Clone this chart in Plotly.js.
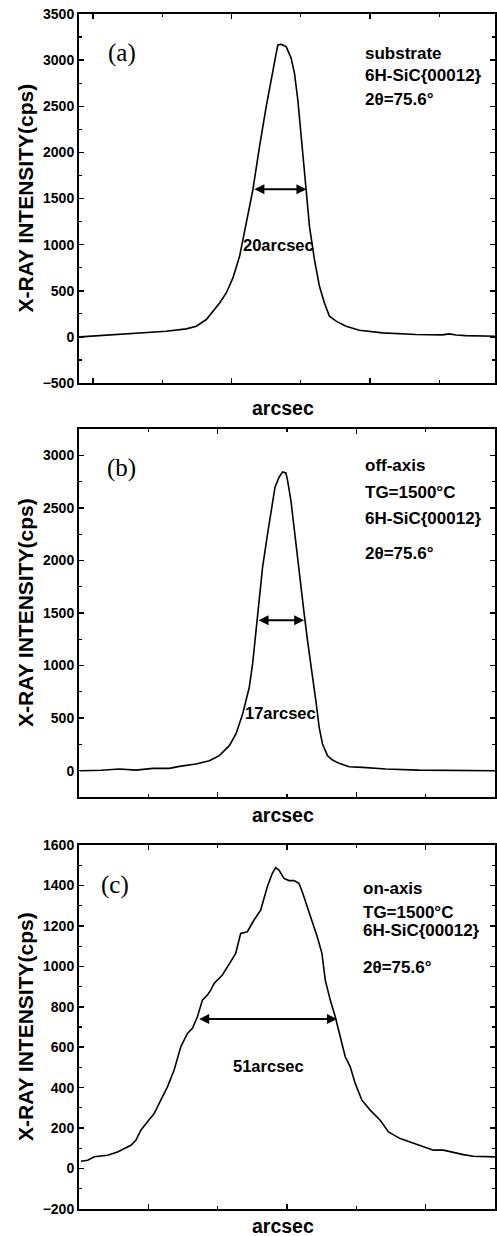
<!DOCTYPE html>
<html><head><meta charset="utf-8">
<script src="https://cdn.plot.ly/plotly-3.0.1.min.js"></script>
<style>body{margin:0;background:#fff}#chart{width:497px;height:1236px}</style>
</head><body><div id="chart"></div>
<script>
// Panel (a) substrate
const xA=[0.4,7.6,14,21.9,31.5,38.7,42.3,45.9,48.3,50.7,53.1,55.5,57.9,62.7,65.1,67.5,71.1,71.7,72.9,74.7,76.5,77.7,78.9,80.1,81.3,81.9,83.1,84.9,86.7,88.5,90.3,92.7,96.3,101.1,109.5,121.5,131,133.5,136,139.4,150];
const yA=[0,14,22,43,61,87,115,188,278,368,476,639,873,1595,2064,2497,3074,3164,3171,3146,3020,2857,2569,2208,1847,1595,1198,837,548,368,224,170,115,72,43,25,22,32,20,14,7];
// Panel (b) off-axis
const xB=[0.5,8,14.6,20.6,26.6,32.6,36.2,42.2,47,50.6,54.2,56.6,59,61.4,62.6,63.8,65,66.2,68,69.8,70.7,72.2,73.4,74.6,75.2,76.4,77.6,78.8,80,81.2,82.4,84.2,85.4,86.6,87.8,89.6,91.4,93.8,97.4,102.2,110.6,122.5,135,150];
const yB=[0,4,16,6,22,22,41,64,95,143,238,349,540,794,1016,1302,1619,1937,2254,2572,2699,2794,2842,2832,2762,2572,2286,2000,1746,1492,1238,921,667,413,254,143,102,70,38,32,16,6,3,0];
// Panel (c) on-axis
const xC=[0.7,3.1,5.5,10.3,13.9,16.3,18.7,20.5,22.3,24.7,27.1,29.5,31.9,34.3,36.7,39.1,40.9,42.7,44.5,46.3,47.5,48.7,49.9,51.7,54.7,56.5,58.3,60.7,63.1,65.5,67.9,69.7,70.9,72.1,73.9,75.7,77.5,79.3,80.5,82.3,84.1,85.9,87.6,88.8,90.6,92.4,94.2,96,97.8,99.6,102,105,108.6,111.6,115.8,120.6,125.4,127.8,131.4,135,138.6,142.2,145.8,150];
const yC=[36,41,58,66,82,99,115,140,190,231,272,338,404,487,602,668,693,751,833,858,882,915,932,957,1023,1064,1163,1171,1229,1278,1394,1460,1488,1476,1435,1424,1424,1410,1369,1295,1229,1146,1064,932,833,751,652,553,503,421,338,289,239,181,148,124,102,91,91,79,69,61,61,58];

// FWHM markers
const fwhmLeft=[62.7,64.2,42.8];
const fwhmRight=[82.0,81.2,93.0];
const fwhmY=[1600,1430,740];
const fwhmText=['20arcsec','17arcsec','51arcsec'];
const fwhmTextX=[71.9,72.8,68.5];
const fwhmTextY=[1000,550,505];

const panelLabels=['(a)','(b)','(c)'];
const panelLabelX=[15.4,15.4,13.0];
const panelLabelY=[3080,2876,1400];

const infoLines=[
  ['substrate','6H-SiC{00012}','2θ=75.6°'],
  ['off-axis','TG=1500°C','6H-SiC{00012}','2θ=75.6°'],
  ['on-axis','TG=1500°C','6H-SiC{00012}','2θ=75.6°']
];
const infoX=[102.5,102.3,101.6];
const infoY=[[3077,2828,2568],[2905,2648,2400,2067],[1385,1266,1177,994]];

const yRanges=[[-500,3500],[-250,3250],[-200,1600]];
const yDtick=[500,500,200];
const xTick0=[5,0,25];
const yTitle='X-RAY INTENSITY(cps)';
const xTitle='arcsec';

(function(){
const FONT='Liberation Sans, Arial, sans-serif';
const traces=[[xA,yA],[xB,yB],[xC,yC]].map((d,i)=>({
  x:d[0],y:d[1],type:'scatter',mode:'lines',
  line:{color:'#000',width:1.6},
  xaxis:i===0?'x':'x'+(i+1), yaxis:i===0?'y':'y'+(i+1),
  showlegend:false,hoverinfo:'skip'
}));

const H=1236, mTop=14, mBot=27, mL=79, W=497, mR=2;
const plotH=H-mTop-mBot, plotW=W-mL-mR;
const pix=[[14,383],[429,797],[845,1209]];
const xTitleDist=[25,18,17];
const doms=pix.map(p=>[(H-mBot-p[1])/plotH,(H-mBot-p[0])/plotH]);

const layout={
  width:W,height:H,
  margin:{l:mL,r:mR,t:mTop,b:mBot},
  paper_bgcolor:'#fff',plot_bgcolor:'#fff',
  font:{family:FONT,color:'#000'},
  showlegend:false,
  annotations:[]
};
for(let i=0;i<3;i++){
  const xs=i===0?'':String(i+1);
  layout['xaxis'+xs]={
    domain:[0,1],anchor:'y'+xs,range:[0,150],
    showline:true,linewidth:2,linecolor:'#000',mirror:'ticks',
    ticks:'inside',ticklen:5,tickwidth:1.5,tickcolor:'#000',
    tick0:xTick0[i],dtick:50,showticklabels:false,
    minor:{ticks:'inside',ticklen:3,tickwidth:1.2,tickcolor:'#000',dtick:25,tick0:xTick0[i]},
    showgrid:false,zeroline:false
  };
  layout['yaxis'+xs]={
    domain:doms[i],anchor:'x'+xs,range:yRanges[i],
    showline:true,linewidth:2,linecolor:'#000',mirror:'ticks',
    ticks:'inside',ticklen:5,tickwidth:1.5,tickcolor:'#000',
    tick0:0,dtick:yDtick[i],
    minor:{ticks:'inside',ticklen:3,tickwidth:1.2,tickcolor:'#000',dtick:yDtick[i]/2},
    tickfont:{family:FONT,size:14,weight:'bold',color:'#000'},
    showgrid:false,zeroline:false
  };
  const xr='x'+xs, yr='y'+xs;
  const hpx=pix[i][1]-pix[i][0];
  // axis titles
  layout.annotations.push({
    xref:'paper',yref:yr+' domain',x:(283-mL)/plotW,y:-xTitleDist[i]/hpx,
    xanchor:'center',yanchor:'middle',text:xTitle,showarrow:false,
    font:{family:FONT,size:19.5,weight:'bold',color:'#000'}
  });
  layout.annotations.push({
    xref:'paper',yref:yr+' domain',x:(25-mL)/plotW,y:0.5,textangle:-90,
    xanchor:'center',yanchor:'middle',text:yTitle,showarrow:false,
    font:{family:FONT,size:21,weight:'bold',color:'#000'}
  });
  layout.annotations.push({
    xref:xr,yref:yr,axref:xr,ayref:yr,
    x:fwhmRight[i],y:fwhmY[i],ax:fwhmLeft[i],ay:fwhmY[i],
    showarrow:true,arrowhead:2,arrowside:'end+start',arrowsize:1,arrowwidth:2,arrowcolor:'#000',text:''
  });
  layout.annotations.push({
    xref:xr,yref:yr,x:fwhmTextX[i],y:fwhmTextY[i],text:fwhmText[i],showarrow:false,
    font:{family:FONT,size:16.5,weight:'bold',color:'#000'}
  });
  layout.annotations.push({
    xref:xr,yref:yr,x:panelLabelX[i],y:panelLabelY[i],text:panelLabels[i],showarrow:false,
    font:{family:'Liberation Serif, Times New Roman, serif',size:25,color:'#000'}
  });
  infoLines[i].forEach((t,j)=>{
    layout.annotations.push({
      xref:xr,yref:yr,x:infoX[i],y:infoY[i][j],text:t,showarrow:false,xanchor:'left',
      font:{family:FONT,size:17,weight:'bold',color:'#000'}
    });
  });
}
Plotly.newPlot('chart',traces,layout,{staticPlot:true});
})();
</script></body></html>
